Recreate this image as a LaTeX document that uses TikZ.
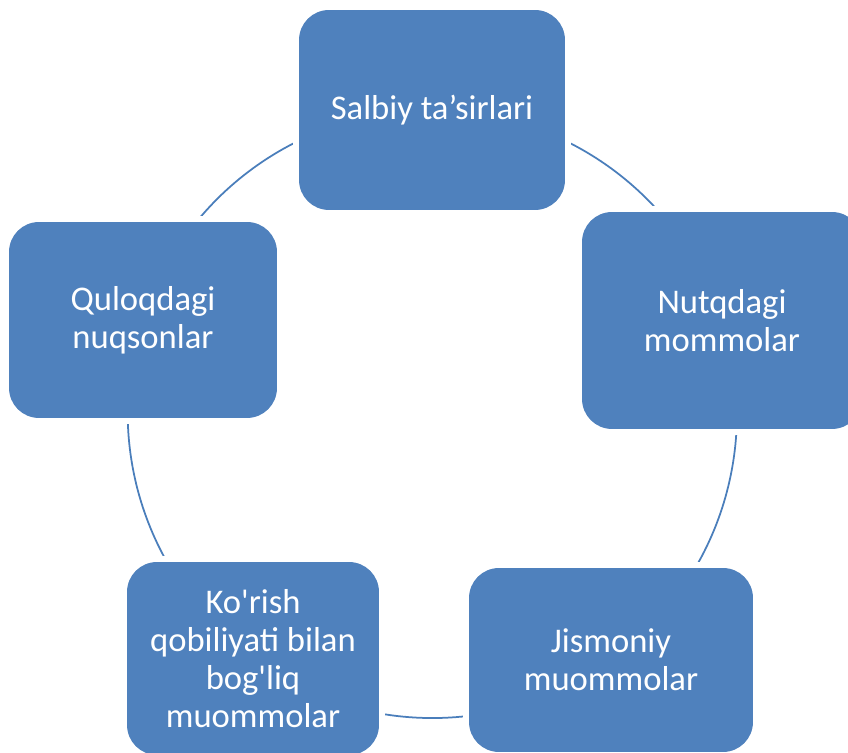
\documentclass[tikz,border=0pt]{standalone}
\usepackage{fontspec}
\setmainfont{Carlito}[Ligatures=TeXOff]

\def\ringradius{304}
\definecolor{box fill}{HTML}{4F81BD}
\definecolor{ring edge}{HTML}{4A7EBB}
\tikzset{cyclebox/.style={rectangle, rounded corners=0.6cm, fill=box fill,
        text=white, align=center, inner sep=0pt,
        font=\fontsize{19.7}{21.6}\selectfont,
        preaction={draw=white, line width=0.24cm}},
    ring/.style={draw=ring edge, line width=0.035cm}}

\begin{document}
\begin{tikzpicture}[x=0.02cm, y=0.02cm]
    \clip (0,0) rectangle (848,753);
    \fill[white] (0,0) rectangle (848,753);

    % boxes sit on the ring, so the arcs start at their centres
    \coordinate (salbiy) at (432,643);
    \coordinate (nutq) at (722,432.5);
    \coordinate (jismoniy) at (611,93);
    \coordinate (korish) at (253,94.5);
    \coordinate (quloq) at (143,433);

    \draw[ring] (salbiy) arc[start angle=90, end angle=18, radius=\ringradius];
    \draw[ring] (nutq) arc[start angle=18, end angle=-54, radius=\ringradius];
    \draw[ring] (jismoniy) arc[start angle=-54, end angle=-126, radius=\ringradius];
    \draw[ring] (korish) arc[start angle=-126, end angle=-198, radius=\ringradius];
    \draw[ring] (quloq) arc[start angle=162, end angle=90, radius=\ringradius];

    \node[cyclebox, minimum width=5.32cm, minimum height=4.00cm] (salbiy box) at (salbiy) {Salbiy ta’sirlari};
    \node[cyclebox, minimum width=5.60cm, minimum height=4.34cm] (nutq box) at (nutq) {Nutqdagi\\mommolar};
    \node[cyclebox, minimum width=5.68cm, minimum height=3.68cm] (jismoniy box) at (jismoniy) {Jismoniy\\muommolar};
    \node[cyclebox, minimum width=5.04cm, minimum height=3.86cm] (korish box) at (korish) {Ko'rish\\qobiliyati bilan\\bog'liq\\muommolar};
    \node[cyclebox, minimum width=5.36cm, minimum height=3.92cm] (quloq box) at (quloq) {Quloqdagi\\nuqsonlar};
\end{tikzpicture}
\end{document}
